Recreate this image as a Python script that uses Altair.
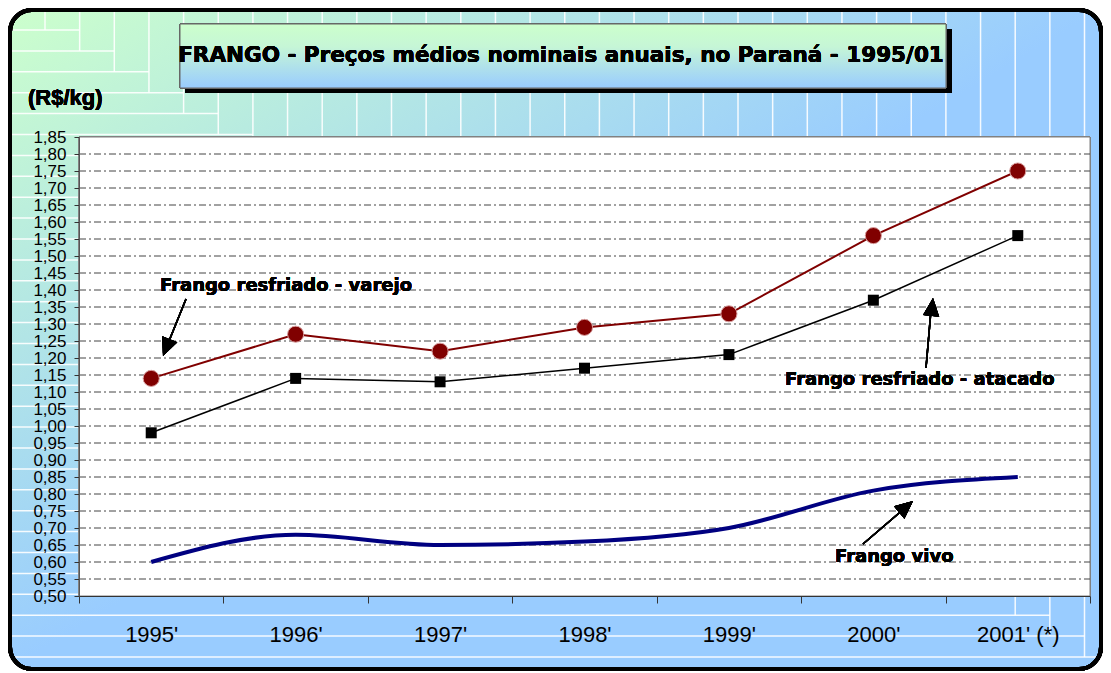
import altair as alt
import pandas as pd

# ---------------- data ----------------
years = ["1995'", "1996'", "1997'", "1998'", "1999'", "2000'", "2001' (*)"]
varejo = [1.14, 1.27, 1.22, 1.29, 1.33, 1.56, 1.75]
atacado = [0.98, 1.14, 1.13, 1.17, 1.21, 1.37, 1.56]
vivo = [0.60, 0.68, 0.65, 0.66, 0.70, 0.81, 0.85]
y_ticks = [0.50, 0.55, 0.60, 0.65, 0.70, 0.75, 0.80, 0.85, 0.90, 0.95,
           1.00, 1.05, 1.10, 1.15, 1.20, 1.25, 1.30, 1.35, 1.40, 1.45,
           1.50, 1.55, 1.60, 1.65, 1.70, 1.75, 1.80, 1.85]
grid_ticks = y_ticks[1:-1]

title_text = "FRANGO - Preços médios nominais anuais, no Paraná - 1995/01"
unit_text = "(R$/kg)"
lbl_varejo = "Frango resfriado - varejo"
lbl_atacado = "Frango resfriado - atacado"
lbl_vivo = "Frango vivo"

df = pd.DataFrame({"year": years, "varejo": varejo, "atacado": atacado, "vivo": vivo})
grid_df = pd.DataFrame({"v": grid_ticks})

# ---------------- layout ----------------
W, H = 1011, 459
PAD_L, PAD_T = 71, 129
CANVAS_W, CANVAS_H = 1095, 664
PAD_R = CANVAS_W - PAD_L - W
PAD_B = CANVAS_H - PAD_T - H
OX, OY = 8 + PAD_L, 8 + PAD_T
FR_X0, FR_Y0, FR_X1, FR_Y1 = 10, 10, 1101, 669


def px(x):
    return x - OX


def py(y):
    return y - OY


def box(x0, y0, x1, y1):
    return dict(x=alt.value(px(x0)), x2=alt.value(px(x1)),
                y=alt.value(py(y0)), y2=alt.value(py(y1)))


# decorative staircase pattern of white lines on the background
seg = []
for k in range(31):
    xk = 45 + 34.65 * k
    yk = 30 + 20.9 * k
    xk1 = 45 + 34.65 * (k + 1)
    if xk < FR_X1 - 3:
        seg.append(dict(x=px(xk), y=py(12), x2=px(xk), y2=py(min(yk, FR_Y1 - 3))))
    if yk < FR_Y1 - 3:
        seg.append(dict(x=px(12), y=py(yk), x2=px(min(xk1, FR_X1 - 2)), y2=py(yk)))
seg_df = pd.DataFrame(seg)

bg_grad = {"gradient": "linear", "x1": 0, "y1": 0, "x2": 1, "y2": 1,
           "stops": [{"offset": 0, "color": "#ccffcc"},
                     {"offset": 0.5, "color": "#99ccff"},
                     {"offset": 1, "color": "#99ccff"}]}
title_grad = {"gradient": "linear", "x1": 0, "y1": 0, "x2": 0, "y2": 1,
              "stops": [{"offset": 0, "color": "#ccffcc"},
                        {"offset": 0.35, "color": "#c6f6d6"},
                        {"offset": 1, "color": "#99ccff"}]}

frame = alt.Chart(df).mark_rect(fill=bg_grad, cornerRadius=22).encode(**box(FR_X0, FR_Y0, FR_X1, FR_Y1))
pattern = alt.Chart(seg_df).mark_rule(color="white", strokeWidth=1.5, opacity=0.9).encode(
    x=alt.X("x:Q", scale=None, axis=None), y=alt.Y("y:Q", scale=None, axis=None),
    x2="x2:Q", y2="y2:Q")
frame_border = alt.Chart(df).mark_rect(filled=False, stroke="black", strokeWidth=4,
                                       cornerRadius=22).encode(**box(FR_X0, FR_Y0, FR_X1, FR_Y1))
title_shadow = alt.Chart(df).mark_rect(color="black").encode(**box(185, 29, 952, 93))
title_box = alt.Chart(df).mark_rect(fill=title_grad, stroke="#666666", strokeWidth=1).encode(
    **box(180, 24, 946, 88))
title = alt.Chart(df).mark_text(text=title_text, font="DejaVu Sans", fontWeight="bold",
                                fontSize=21.5, align="center", baseline="middle",
                                color="black").encode(x=alt.value(px(561)), y=alt.value(py(56)))
unit = alt.Chart(df).mark_text(text=unit_text, font="Liberation Sans", fontWeight="bold",
                               fontSize=22, align="left", baseline="middle",
                               color="black").encode(x=alt.value(px(28)), y=alt.value(py(98)))
plot_bg = alt.Chart(df).mark_rect(fill="white", stroke="#808080", strokeWidth=1).encode(
    x=alt.value(0), x2=alt.value(W), y=alt.value(0), y2=alt.value(H))

# ---------------- scales / axes ----------------
y_scale = alt.Scale(domain=[0.5, 1.85], nice=False, zero=False)
y_axis = alt.Axis(values=y_ticks, labelExpr="replace(format(datum.value, '.2f'), '.', ',')",
                  grid=False, tickSize=5, tickColor="#333333", domainColor="#555555",
                  labelFont="Liberation Sans", labelFontSize=17, labelColor="black",
                  labelPadding=8, labelOverlap=False, labelFlush=False, title=None, zindex=1)
x_scale = alt.Scale(type="band", domain=years, paddingInner=0, paddingOuter=0)
x_axis = alt.Axis(tickBand="extent", tickSize=7, tickColor="#333333", domainColor="#333333",
                  labelFont="Liberation Sans", labelFontSize=22, labelColor="black",
                  labelPadding=21, labelAngle=0, labelOverlap=False, title=None, zindex=1)
x_enc = alt.X("year:N", scale=x_scale, axis=x_axis, sort=years, bandPosition=0.5)

grid = alt.Chart(grid_df).mark_rule(strokeDash=[7, 3, 2, 3], color="#444444", strokeWidth=1).encode(
    y=alt.Y("v:Q", scale=y_scale, axis=y_axis), x=alt.value(0), x2=alt.value(W))

base = alt.Chart(df).encode(x=x_enc)
vivo_line = base.mark_line(color="#000080", strokeWidth=4, interpolate="monotone").encode(
    y=alt.Y("vivo:Q", scale=y_scale, axis=y_axis))
atac_line = base.mark_line(color="black", strokeWidth=1.5).encode(
    y=alt.Y("atacado:Q", scale=y_scale, axis=y_axis))
atac_pts = base.mark_square(color="black", size=121, opacity=1).encode(
    y=alt.Y("atacado:Q", scale=y_scale, axis=y_axis))
var_line = base.mark_line(color="#800000", strokeWidth=2).encode(
    y=alt.Y("varejo:Q", scale=y_scale, axis=y_axis))
var_pts = base.mark_circle(fill="#800000", stroke="#d9a0a0", strokeWidth=1, size=260,
                           opacity=1).encode(y=alt.Y("varejo:Q", scale=y_scale, axis=y_axis))

# ---------------- annotations ----------------
HEAD = "M0,0L0.45,1L-0.45,1Z"


def arrow(x0, y0, x1, y1, tx, ty, ang):
    line = alt.Chart(df).mark_rule(color="black", strokeWidth=1.5).encode(
        x=alt.value(px(x0)), y=alt.value(py(y0)), x2=alt.value(px(x1)), y2=alt.value(py(y1)))
    head = alt.Chart(df).mark_point(shape=HEAD, filled=True, color="black", size=1296,
                                    angle=ang, opacity=1).encode(
        x=alt.value(px(tx)), y=alt.value(py(ty)))
    return [line, head]


def label(txt, x, y):
    return alt.Chart(df).mark_text(text=txt, font="DejaVu Sans", fontWeight="bold", fontSize=18,
                                   align="left", baseline="middle", color="black").encode(
        x=alt.value(px(x)), y=alt.value(py(y)))


annots = (arrow(186, 299, 167, 346, 163, 356, 202)
          + arrow(926, 368, 931, 310, 933, 298, 6)
          + arrow(863, 544, 905, 508, 913, 501, 50)
          + [label(lbl_varejo, 160, 286), label(lbl_atacado, 785, 380), label(lbl_vivo, 835, 557)])

chart = alt.layer(
    frame, pattern, frame_border, title_shadow, title_box, title, unit, plot_bg, grid,
    vivo_line, atac_line, atac_pts, var_line, var_pts, *annots
).properties(
    width=W, height=H,
    padding={"left": PAD_L, "top": PAD_T, "right": PAD_R, "bottom": PAD_B},
    autosize=alt.AutoSizeParams(type="none"),
    background="white",
).configure_view(stroke=None)

chart.save("out.html", embed_options={"renderer": "svg", "actions": False})
